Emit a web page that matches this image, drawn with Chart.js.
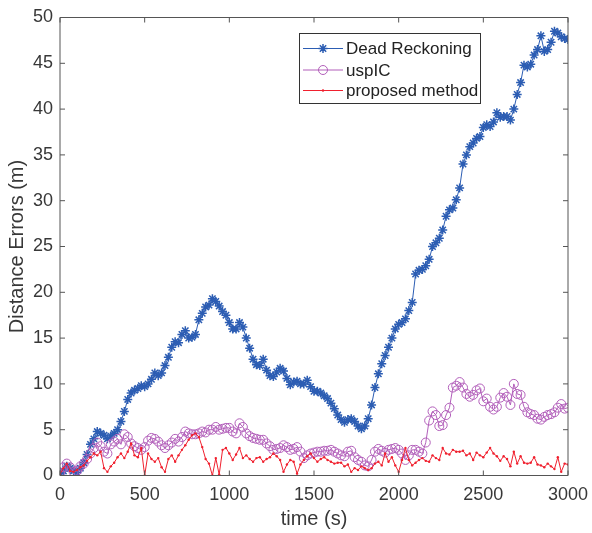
<!DOCTYPE html>
<html>
<head>
<meta charset="utf-8">
<script src="https://cdn.jsdelivr.net/npm/chart.js@4/dist/chart.umd.min.js"></script>
<style>
  html, body { margin: 0; padding: 0; background: #fff; }
  #wrap { width: 592px; height: 533px; }
</style>
</head>
<body>
<div id="wrap"><canvas id="errChart" width="592" height="533"></canvas></div>
<script>
// sample times (s), one sample every 20 s
const times = Array.from({ length: 151 }, (_, i) => i * 20);

const xTicks = [0, 500, 1000, 1500, 2000, 2500, 3000];
const yTicks = [0, 5, 10, 15, 20, 25, 30, 35, 40, 45, 50];

const deadReckoning = [
  0.2, 0.5, 1.0, 0.8, 0.5, 0.3, 0.8, 1.4, 2.3, 3.4,
  4.0, 4.8, 4.6, 4.4, 4.0, 4.3, 4.6, 5.0, 5.9, 7.0,
  8.3, 9.0, 9.3, 9.5, 9.8, 9.7, 10.0, 10.5, 11.2, 10.9,
  11.2, 12.0, 12.9, 14.0, 14.6, 14.5, 15.4, 15.8, 15.0, 15.1,
  15.4, 17.0, 17.7, 18.4, 18.6, 19.3, 19.0, 18.5, 17.9, 17.5,
  16.7, 16.0, 16.0, 16.7, 16.2, 15.0, 13.9, 12.7, 12.1, 12.0,
  12.7, 11.5, 10.9, 10.8, 11.3, 11.7, 11.4, 10.6, 9.9, 10.2,
  10.3, 10.0, 10.0, 10.4, 9.7, 9.2, 9.2, 9.0, 8.7, 8.4,
  7.9, 7.3, 6.6, 6.1, 5.8, 6.1, 6.2, 5.9, 5.4, 5.1,
  5.4, 6.2, 7.7, 9.6, 11.1, 12.2, 13.1, 14.0, 15.0, 16.0,
  16.5, 16.7, 17.1, 18.0, 18.9, 22.0, 22.4, 22.5, 22.9, 23.6,
  25.0, 25.4, 25.9, 26.8, 28.3, 29.0, 29.2, 30.1, 31.4, 34.0,
  35.0, 35.9, 36.3, 36.8, 37.0, 38.0, 38.3, 38.1, 38.6, 39.6,
  39.1, 39.2, 39.2, 38.8, 40.0, 41.6, 42.9, 44.8, 44.6, 44.9,
  45.9, 46.5, 48.0, 46.3, 46.5, 47.3, 48.5, 48.3, 47.9, 47.7,
  47.6
];

const uspIC = [
  0.3, 0.9, 1.3, 0.9, 0.4, 0.5, 1.0, 1.3, 1.8, 2.4,
  3.0, 3.6, 3.2, 2.6, 2.4, 3.4, 3.7, 4.0, 3.4, 4.5,
  4.2, 3.5, 3.2, 3.0, 2.8, 3.1, 3.8, 4.1, 4.0, 3.7,
  3.3, 3.0, 3.3, 3.6, 4.0, 3.7, 4.2, 4.8, 4.6, 4.5,
  4.5, 4.6, 4.8, 4.7, 5.0, 5.0, 5.3, 5.0, 5.1, 5.2,
  5.2, 4.8, 4.6, 5.7, 5.3, 4.6, 4.3, 4.1, 4.0, 3.9,
  3.9, 3.5, 3.2, 2.8, 2.9, 3.0, 3.3, 3.1, 2.8, 2.9,
  3.1, 2.6, 1.9, 2.2, 2.4, 2.5, 2.6, 2.6, 2.7, 2.7,
  2.8, 2.6, 2.4, 2.2, 2.1, 2.6, 2.7, 2.0, 1.7, 1.5,
  1.1, 1.0, 1.7, 2.6, 2.9, 2.7, 2.5, 2.8, 2.9, 3.0,
  2.8, 2.4, 1.7, 2.2, 2.8, 2.8, 2.6, 2.4, 3.6, 6.0,
  7.0, 6.6, 5.4, 5.5, 6.6, 7.4, 9.6, 9.8, 10.2, 9.6,
  8.9, 8.6, 8.8, 9.3, 9.5, 8.1, 8.4, 7.5, 7.2, 7.5,
  8.5, 9.0, 8.6, 7.7, 10.0, 8.9, 8.8, 7.5, 6.9, 6.7,
  6.6, 6.2, 6.1, 6.4, 6.6, 6.7, 6.9, 7.4, 7.8, 7.3,
  7.4
];

const proposed = [
  0.1, 0.8, 1.3, 0.5, 0.4, 0.6, 0.9, 1.1, 1.6, 2.0,
  2.4, 2.2, 2.6, 0.8, 0.4, 1.0, 1.4, 2.0, 2.4, 1.9,
  2.6, 3.5, 2.2, 2.0, 3.0, 0.0, 2.4, 1.8, 1.5, 1.9,
  0.9, 0.4, 1.8, 2.2, 1.5, 2.2, 2.8, 3.3, 3.9, 4.4,
  4.6, 4.2, 3.1, 1.8, 1.3, 0.0, 1.9, 0.1, 2.8, 3.0,
  2.4, 1.7, 2.3, 3.0, 1.9, 2.2, 1.8, 1.5, 1.9, 2.0,
  1.5, 1.8, 2.0, 2.4, 2.1, 1.7, 0.4, 1.2, 1.7, 1.5,
  0.2, 1.2, 1.7, 2.1, 2.4, 1.9, 1.5, 1.8, 2.0, 1.7,
  1.5, 1.3, 1.4, 1.4, 1.0, 1.2, 0.4, 0.8, 0.6, 1.0,
  0.8, 0.6, 0.8, 1.3, 1.5, 1.1, 2.4, 1.5, 2.0, 1.1,
  0.4, 1.7, 3.0, 1.7, 1.1, 1.4, 1.7, 1.9, 1.6, 1.5,
  2.2, 1.9, 1.7, 3.0, 2.4, 2.3, 2.8, 2.6, 2.6, 2.7,
  2.2, 2.4, 1.7, 2.5, 2.2, 2.0, 2.5, 3.0, 2.4, 2.1,
  1.6, 2.1, 1.8, 1.0, 2.6, 1.3, 2.1, 1.4, 1.3, 1.4,
  2.0, 1.2, 1.1, 0.9, 1.3, 1.0, 0.7, 2.0, 0.4, 1.3,
  1.2
];

const seriesNames = ["Dead Reckoning", "uspIC", "proposed method"];
const seriesColors = ["#2c5db3", "#b25fba", "#f0202e"];

const textColor = "#383838";
const axisColor = "#555555";
const fontFamily = "'Liberation Sans', Arial, sans-serif";

function toPoints(values) {
  return times.map((t, i) => ({ x: t, y: values[i] }));
}

// MATLAB style box: top/right border and ticks pointing inward, plus legend
const boxAxes = {
  id: "boxAxes",
  afterDraw(chart) {
    const ctx = chart.ctx;
    const area = chart.chartArea;
    const xs = chart.scales.x;
    const ys = chart.scales.y;
    const tl = 5;
    ctx.save();
    ctx.strokeStyle = axisColor;
    ctx.lineWidth = 1;
    ctx.beginPath();
    ctx.rect(area.left, area.top, area.right - area.left, area.bottom - area.top);
    xTicks.forEach(v => {
      const px = xs.getPixelForValue(v);
      ctx.moveTo(px, area.bottom);
      ctx.lineTo(px, area.bottom - tl);
      ctx.moveTo(px, area.top);
      ctx.lineTo(px, area.top + tl);
    });
    yTicks.forEach(v => {
      const py = ys.getPixelForValue(v);
      ctx.moveTo(area.left, py);
      ctx.lineTo(area.left + tl, py);
      ctx.moveTo(area.right, py);
      ctx.lineTo(area.right - tl, py);
    });
    ctx.stroke();

    // legend
    const lx = 299.5, ly = 33.5, lw = 181, lh = 70;
    ctx.fillStyle = "#fff";
    ctx.fillRect(lx, ly, lw, lh);
    ctx.strokeStyle = "#333";
    ctx.strokeRect(lx, ly, lw, lh);
    ctx.font = "17px " + fontFamily;
    ctx.textBaseline = "middle";
    const rows = [48.5, 70, 90.5];
    chart.data.datasets.forEach((ds, i) => {
      const y = rows[i];
      ctx.strokeStyle = ds.borderColor;
      ctx.lineWidth = 1;
      ctx.beginPath();
      ctx.moveTo(303, y);
      ctx.lineTo(343, y);
      ctx.stroke();
      ctx.fillStyle = ds.pointBackgroundColor;
      ctx.strokeStyle = ds.pointBorderColor;
      ctx.lineWidth = ds.pointBorderWidth || 1;
      Chart.helpers.drawPoint(ctx, {
        pointStyle: ds.pointStyle,
        radius: ds.pointRadius,
        rotation: 0,
        borderWidth: ds.pointBorderWidth
      }, 323, y);
      ctx.fillStyle = "#222";
      ctx.fillText(ds.label, 346, y + 1);
    });
    ctx.restore();
  }
};

new Chart(document.getElementById("errChart"), {
  type: "line",
  data: {
    datasets: [
      {
        label: seriesNames[0],
        data: toPoints(deadReckoning),
        borderColor: seriesColors[0],
        borderWidth: 1,
        pointStyle: "star",
        pointRadius: 4.5,
        pointBorderWidth: 1.5,
        pointBorderColor: seriesColors[0],
        pointBackgroundColor: seriesColors[0],
        order: 3
      },
      {
        label: seriesNames[1],
        data: toPoints(uspIC),
        borderColor: seriesColors[1],
        borderWidth: 1,
        pointStyle: "circle",
        pointRadius: 4.5,
        pointBorderWidth: 1,
        pointBorderColor: seriesColors[1],
        pointBackgroundColor: "rgba(0,0,0,0)",
        order: 2
      },
      {
        label: seriesNames[2],
        data: toPoints(proposed),
        borderColor: seriesColors[2],
        borderWidth: 1,
        pointStyle: "circle",
        pointRadius: 1.2,
        pointBorderWidth: 0,
        pointBorderColor: seriesColors[2],
        pointBackgroundColor: seriesColors[2],
        order: 1
      }
    ]
  },
  options: {
    responsive: false,
    animation: false,
    layout: { padding: { left: 0, right: 24, top: 17.5, bottom: 0 } },
    plugins: {
      legend: { display: false },
      tooltip: { enabled: false }
    },
    elements: { line: { tension: 0 } },
    scales: {
      x: {
        type: "linear",
        min: 0,
        max: 3000,
        afterFit: s => { s.height = 57.5; s.paddingLeft = 0; s.paddingRight = 0; },
        afterBuildTicks: s => { s.ticks = xTicks.map(v => ({ value: v })); },
        grid: { display: false, drawTicks: false },
        border: { display: false },
        ticks: {
          color: textColor,
          font: { family: fontFamily, size: 18 },
          padding: 9,
          maxRotation: 0,
          callback: v => String(v)
        },
        title: {
          display: true,
          text: "time (s)",
          color: textColor,
          font: { family: fontFamily, size: 20 },
          padding: { top: 0, bottom: 2 }
        }
      },
      y: {
        type: "linear",
        min: 0,
        max: 50,
        afterFit: s => { s.width = 60; s.paddingTop = 0; s.paddingBottom = 0; },
        afterBuildTicks: s => { s.ticks = yTicks.map(v => ({ value: v })); },
        grid: { display: false, drawTicks: false },
        border: { display: false },
        ticks: {
          color: textColor,
          font: { family: fontFamily, size: 18 },
          padding: 7,
          callback: v => String(v)
        },
        title: {
          display: true,
          text: "Distance Errors (m)",
          color: textColor,
          font: { family: fontFamily, size: 20 },
          padding: { top: 5, bottom: 0 }
        }
      }
    }
  },
  plugins: [boxAxes]
});
</script>
</body>
</html>
